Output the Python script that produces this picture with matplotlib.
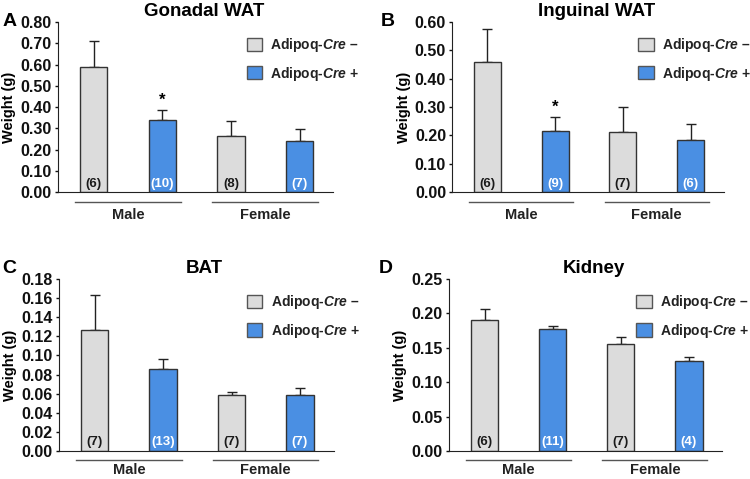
import matplotlib
matplotlib.use("Agg")
import matplotlib.pyplot as plt
import matplotlib.patches as patches
import numpy as np

plt.rcParams['font.family'] = ['Liberation Sans', 'DejaVu Sans']
plt.rcParams['font.weight'] = 'bold'
plt.rcParams['mathtext.fontset'] = 'custom'
plt.rcParams['mathtext.bfit'] = 'Liberation Sans:italic:bold'
plt.rcParams['mathtext.it'] = 'Liberation Sans:italic:bold'

# data
groups = ['Male', 'Female']
genotypes = ['Adipoq-$\\mathbfit{Cre}$ \u2013', 'Adipoq-$\\mathbfit{Cre}$ +']

titles = ['Gonadal WAT', 'Inguinal WAT', 'BAT', 'Kidney']
letters = ['A', 'B', 'C', 'D']

# order: male Cre-, male Cre+, female Cre-, female Cre+
gonadal_mean = [0.59, 0.34, 0.262, 0.242]
gonadal_err = [0.122, 0.045, 0.073, 0.053]
gonadal_n = ['(6)', '(10)', '(8)', '(7)']

inguinal_mean = [0.46, 0.215, 0.212, 0.185]
inguinal_err = [0.117, 0.05, 0.087, 0.055]
inguinal_n = ['(6)', '(9)', '(7)', '(6)']

bat_mean = [0.127, 0.086, 0.059, 0.059]
bat_err = [0.036, 0.010, 0.003, 0.007]
bat_n = ['(7)', '(13)', '(7)', '(7)']

kidney_mean = [0.191, 0.177, 0.155, 0.131]
kidney_err = [0.016, 0.005, 0.011, 0.005]
kidney_n = ['(6)', '(11)', '(7)', '(4)']

means = [gonadal_mean, inguinal_mean, bat_mean, kidney_mean]
errs = [gonadal_err, inguinal_err, bat_err, kidney_err]
ns = [gonadal_n, inguinal_n, bat_n, kidney_n]
ymax = [0.80, 0.60, 0.18, 0.25]
ystep = [0.10, 0.10, 0.02, 0.05]
stars = [[1], [1], [], []]

gray = '#dcdcdc'
blue = '#4a8fe3'
colors = [gray, blue, gray, blue]
label_colors = ['#1a1a1a', 'white', '#1a1a1a', 'white']

# axes rectangles [left, bottom, width, height] in figure fractions
rects = [
    [0.0773, 0.599, 0.367, 0.355],
    [0.603, 0.599, 0.362, 0.355],
    [0.0787, 0.0585, 0.366, 0.359],
    [0.599, 0.0585, 0.364, 0.359],
]
# underline / group label offsets (axes fraction) per panel
line_y = [-0.059, -0.059, -0.052, -0.052]
group_y = [-0.135, -0.135, -0.108, -0.108]
letter_pos = [(0.003, 0.955), (0.508, 0.955), (0.003, 0.44), (0.505, 0.44)]

fig = plt.figure(figsize=(7.5, 4.79), dpi=100)
x = np.arange(4)

for i in range(4):
    ax = fig.add_axes(rects[i])
    ax.bar(x, means[i], width=0.4, color=colors, edgecolor='#333333', linewidth=1.0, zorder=2)
    ax.errorbar(x, means[i], yerr=[np.zeros(4), errs[i]], fmt='none', ecolor='#222222',
                elinewidth=1.0, capsize=3.5, capthick=1.0, zorder=1)
    ax.set_xlim(-0.52, 3.49)
    ax.set_ylim(0, ymax[i])
    ticks = np.arange(0, ymax[i] + ystep[i] / 2, ystep[i])
    ax.set_yticks(ticks)
    ax.set_yticklabels(['%.2f' % v for v in ticks])
    ax.set_xticks([])
    ax.spines['top'].set_visible(False)
    ax.spines['right'].set_visible(False)
    ax.spines['left'].set_color('#222222')
    ax.spines['bottom'].set_color('#222222')
    ax.tick_params(axis='y', length=2.5, width=1, pad=2, labelsize=11.5, colors='#111111')
    for t in ax.get_yticklabels():
        t.set_fontweight('bold')
    ax.set_ylabel('Weight (g)', fontsize=10.5, fontweight='bold', labelpad=3)
    ax.set_title(titles[i], fontsize=13.5, fontweight='bold', x=0.53, pad=4)

    # n labels inside bars
    for j in range(4):
        ax.text(x[j], 0.05, ns[i][j], transform=ax.get_xaxis_transform(), ha='center',
                va='center', fontsize=9.5, fontweight='bold', color=label_colors[j])
    # significance stars
    for j in stars[i]:
        ax.text(x[j], means[i][j] + errs[i][j] + ymax[i] * 0.012, '*', ha='center',
                va='bottom', fontsize=12, fontweight='bold')

    # group underlines and labels
    for g, name in enumerate(groups):
        c = 2 * g + 0.5
        ax.plot([c - 0.77, c + 0.77], [line_y[i], line_y[i]], transform=ax.get_xaxis_transform(),
                color='#555555', linewidth=1.0, clip_on=False)
        ax.text(c, group_y[i], name, transform=ax.get_xaxis_transform(), ha='center', va='center',
                fontsize=10.5, fontweight='bold', color='#222222')

    # legend
    handles = [patches.Patch(facecolor=gray, edgecolor='#555555', linewidth=1.0),
               patches.Patch(facecolor=blue, edgecolor='#555555', linewidth=1.0)]
    leg = ax.legend(handles, genotypes, loc='upper left', bbox_to_anchor=(0.665, 0.95),
                    frameon=False, fontsize=10, handlelength=1.1, handleheight=1.1,
                    handletextpad=0.6, labelspacing=0.75, borderaxespad=0)
    for t in leg.get_texts():
        t.set_fontweight('bold')
        t.set_color('#222222')

    fig.text(letter_pos[i][0], letter_pos[i][1], letters[i], fontsize=14, fontweight='bold',
             ha='left', va='center')

fig.savefig('out.png', dpi=100)
